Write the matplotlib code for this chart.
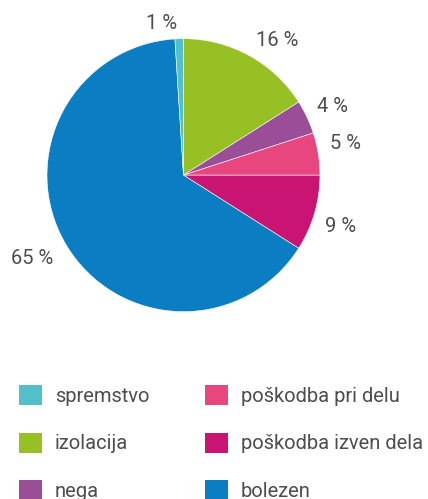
import matplotlib
matplotlib.use("Agg")
import matplotlib.pyplot as plt
from matplotlib.patches import Patch

plt.rcParams['font.family'] = ['Roboto', 'DejaVu Sans']

# podatki (v smeri urinega kazalca od vrha)
kategorije = ['izolacija', 'nega', 'poškodba pri delu', 'poškodba izven dela', 'bolezen', 'spremstvo']
deleži = [16, 4, 5, 9, 65, 1]
barve = ['#97C024', '#9A4E97', '#E8467E', '#C91474', '#0B7EC3', '#52BFCB']

# vrstni red v legendi
legenda = ['spremstvo', 'izolacija', 'nega', 'poškodba pri delu', 'poškodba izven dela', 'bolezen']

text_color = '#4d4d4d'
R_PX = 136.5
# premik oznak v pikslih (desno, gor)
zamiki = [(15, -9), (1, -1), (0, 6), (0, -6), (-10, 0), (-17, -12)]

fig = plt.figure(figsize=(4.28, 4.99), dpi=100)
ax = fig.add_axes([0.4287 - 0.319, 0.649 - 0.2735, 0.638, 0.547])

wedges, texts, autotexts = ax.pie(deleži, colors=barve, startangle=90, counterclock=False,
                                  autopct=lambda p: '%d %%' % round(p), pctdistance=1.2,
                                  wedgeprops=dict(linewidth=0.4, edgecolor='white'),
                                  textprops=dict(fontsize=14.5, color=text_color))
for t, (dx, dy) in zip(autotexts, zamiki):
    x, y = t.get_position()
    t.set_position((x + dx / R_PX, y + dy / R_PX))
ax.set_xlim(-1, 1)
ax.set_ylim(-1, 1)
ax.set_aspect('equal')

handles = [Patch(facecolor=barve[kategorije.index(k)], edgecolor='none', label=k) for k in legenda]
leg = fig.legend(handles=handles, ncol=2, loc='upper left', bbox_to_anchor=(0.0444, 0.2285),
                 frameon=False, prop=dict(size=14.5),
                 handlelength=1.14, handleheight=1.14,
                 handletextpad=0.65, labelspacing=1.34, columnspacing=2.75, borderpad=0, borderaxespad=0)
for t in leg.get_texts():
    t.set_color(text_color)

fig.savefig('out.png', dpi=100)
